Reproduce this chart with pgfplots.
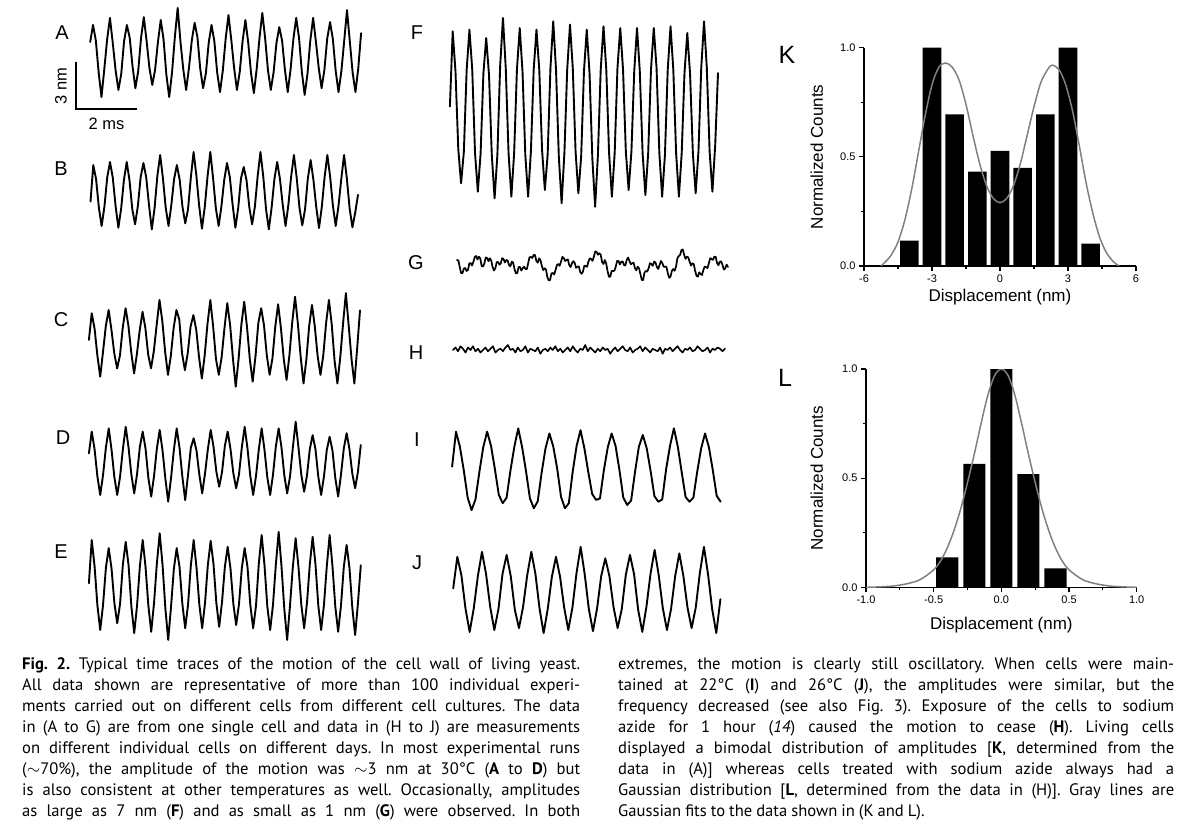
\documentclass[border=0pt]{standalone}
\usepackage{fontspec}
\setmainfont{Liberation Sans}
\newfontfamily\capfont{PT Sans}
\usepackage{pgfplots}
\pgfplotsset{compat=1.18}
\pgfplotsset{
  trace/.style={scale only axis, hide axis, clip=false, ymin=-1, ymax=1, xmin=0, anchor=south west},
  tr/.style={black, line width=1.9pt, line join=round, line cap=round, mark=none},
  hist/.style={scale only axis, anchor=south west, ymin=0, ymax=1,
    axis x line=bottom, axis y line=left, axis line style={-, line width=1.3pt},
    tick align=outside, major tick length=5pt, minor tick length=3pt,
    tick style={line width=1.2pt, black},
    ytick={0,0.5,1}, minor ytick={0.25,0.75},
    yticklabel style={/pgf/number format/.cd, fixed, fixed zerofill, precision=1},
    /pgf/number format/assume math mode=true,
    tick label style={font=\fontsize{11}{13}\selectfont},
    label style={font=\fontsize{17}{20}\selectfont},
    ylabel={Normalized Counts}, xlabel={Displacement (nm)}},
}
\newcommand\Tl[1]{\hbox to 558pt{#1}}
\newcommand\Tr[1]{\hbox to 556pt{#1}}
\begin{document}
\begin{tikzpicture}[x=1pt,y=1pt]
\useasboundingbox (0,0) rectangle (1199,831);
% ---------- A ----------
\begin{axis}[trace, at={(90.2pt,740pt)}, width=270.9pt, height=71pt, xmax=96]
\addplot[tr] table[row sep=\\, header=false, x expr=\coordindex, y index=0]{0.38\\0.86\\0.42\\-0.48\\-1.17\\-0.38\\0.45\\1.06\\0.35\\-0.42\\-0.97\\-0.52\\0.40\\0.86\\0.50\\-0.30\\-0.92\\-0.45\\0.48\\1.08\\0.40\\-0.36\\-0.83\\-0.40\\0.38\\1.0\\0.45\\-0.55\\-1.17\\-0.48\\0.52\\1.34\\0.38\\-0.40\\-0.97\\-0.35\\0.42\\0.92\\0.52\\-0.38\\-0.92\\-0.50\\0.36\\0.86\\0.40\\-0.48\\-1.03\\-0.42\\0.47\\1.14\\0.44\\-0.35\\-0.97\\-0.46\\0.40\\1.0\\0.36\\-0.50\\-1.06\\-0.38\\0.50\\1.2\\0.48\\-0.42\\-0.97\\-0.47\\0.35\\0.8\\0.42\\-0.40\\-1.03\\-0.40\\0.46\\1.06\\0.50\\-0.46\\-1.11\\-0.52\\0.42\\1.06\\0.38\\-0.36\\-0.92\\-0.40\\0.48\\0.94\\0.46\\-0.44\\-1.03\\-0.45\\0.40\\1.28\\0.40\\-0.48\\-1.03\\-0.36\\0.63\\};
\end{axis}
% ---------- B ----------
\begin{axis}[trace, at={(90.5pt,605pt)}, width=267.5pt, height=67pt, xmax=96]
\addplot[tr] table[row sep=\\, header=false, x expr=\coordindex, y index=0]{-0.27\\0.82\\0.40\\-0.45\\-1.00\\-0.42\\0.45\\0.91\\0.44\\-0.40\\-1.05\\-0.48\\0.38\\0.91\\0.36\\-0.50\\-0.95\\-0.40\\0.46\\0.88\\0.45\\-0.38\\-1.10\\-0.46\\0.50\\1.12\\0.42\\-0.46\\-1.00\\-0.38\\0.40\\0.82\\0.38\\-0.42\\-0.92\\-0.50\\0.44\\1.21\\0.50\\-0.40\\-1.08\\-0.44\\0.48\\1.21\\0.42\\-0.48\\-1.00\\-0.40\\0.38\\0.88\\0.46\\-0.36\\-1.05\\-0.47\\0.42\\0.76\\0.36\\-0.44\\-0.95\\-0.42\\0.50\\1.21\\0.48\\-0.50\\-1.10\\-0.45\\0.40\\0.91\\0.40\\-0.38\\-1.00\\-0.38\\0.47\\1.12\\0.44\\-0.46\\-0.98\\-0.50\\0.42\\0.97\\0.38\\-0.42\\-1.06\\-0.44\\0.45\\1.12\\0.47\\-0.40\\-1.00\\-0.40\\0.40\\1.12\\0.42\\-0.48\\-1.04\\-0.60\\-0.07\\};
\end{axis}
% ---------- C ----------
\begin{axis}[trace, at={(88.9pt,454pt)}, width=271.1pt, height=72pt, xmax=96]
\addplot[tr] table[row sep=\\, header=false, x expr=\coordindex, y index=0]{0.03\\0.77\\0.35\\-0.40\\-0.99\\-0.30\\0.42\\0.86\\0.30\\-0.35\\-0.76\\-0.40\\0.38\\0.91\\0.42\\-0.32\\-0.90\\-0.36\\0.30\\0.81\\0.36\\-0.38\\-0.76\\-0.28\\0.45\\1.14\\0.55\\-0.30\\-0.94\\-0.42\\0.36\\0.86\\0.60\\-0.35\\-0.81\\-0.34\\0.40\\0.72\\0.32\\-0.45\\-1.04\\-0.40\\0.48\\1.14\\0.40\\-0.50\\-0.94\\-0.45\\0.35\\1.05\\0.45\\-0.48\\-1.27\\-0.50\\0.46\\1.09\\0.38\\-0.52\\-1.13\\-0.42\\0.50\\0.91\\0.44\\-0.40\\-0.94\\-0.48\\0.40\\1.02\\0.36\\-0.50\\-1.08\\-0.40\\0.52\\1.23\\0.48\\-0.45\\-1.18\\-0.52\\0.42\\1.00\\0.40\\-0.42\\-0.94\\-0.40\\0.50\\1.14\\0.45\\-0.55\\-1.18\\-0.46\\0.48\\1.33\\0.42\\-0.50\\-1.18\\-0.20\\0.85\\};
\end{axis}
% ---------- D ----------
\begin{axis}[trace, at={(88.9pt,337pt)}, width=271.9pt, height=64pt, xmax=96]
\addplot[tr] table[row sep=\\, header=false, x expr=\coordindex, y index=0]{0.27\\0.95\\0.40\\-0.45\\-1.03\\-0.40\\0.45\\1.05\\0.38\\-0.48\\-1.03\\-0.46\\0.40\\1.10\\0.45\\-0.40\\-0.98\\-0.38\\0.48\\0.95\\0.42\\-0.50\\-1.08\\-0.44\\0.42\\1.00\\0.36\\-0.52\\-1.24\\-0.50\\0.38\\1.05\\0.44\\-0.46\\-1.19\\-0.40\\0.45\\0.74\\0.35\\-0.40\\-0.98\\-0.36\\0.40\\1.00\\0.48\\-0.30\\-0.77\\-0.32\\0.50\\0.95\\0.40\\-0.35\\-0.82\\-0.38\\0.46\\1.10\\0.42\\-0.45\\-1.03\\-0.44\\0.40\\1.05\\0.38\\-0.48\\-1.03\\-0.40\\0.48\\1.05\\0.46\\-0.42\\-0.98\\-0.46\\0.44\\1.26\\0.45\\-0.40\\-0.93\\-0.42\\0.40\\0.84\\0.40\\-0.46\\-1.03\\-0.45\\0.38\\0.79\\0.36\\-0.50\\-1.08\\-0.40\\0.42\\0.90\\0.40\\-0.36\\-0.82\\-0.30\\0.53\\};
\end{axis}
% ---------- E ----------
\begin{axis}[trace, at={(88.9pt,201pt)}, width=271.9pt, height=90pt, xmax=96]
\addplot[tr] table[row sep=\\, header=false, x expr=\coordindex, y index=0]{0.04\\1.00\\0.42\\-0.45\\-1.00\\-0.44\\0.38\\0.82\\0.36\\-0.40\\-0.85\\-0.42\\0.46\\0.96\\0.44\\-0.48\\-1.07\\-0.46\\0.42\\1.00\\0.40\\-0.46\\-1.04\\-0.40\\0.48\\1.15\\0.45\\-0.52\\-1.22\\-0.48\\0.36\\0.82\\0.40\\-0.42\\-0.96\\-0.44\\0.44\\1.00\\0.38\\-0.44\\-0.96\\-0.40\\0.45\\0.98\\0.46\\-0.40\\-0.93\\-0.38\\0.40\\0.85\\0.36\\-0.42\\-0.89\\-0.42\\0.38\\0.82\\0.40\\-0.45\\-0.96\\-0.46\\0.48\\1.11\\0.44\\-0.48\\-1.00\\-0.44\\0.45\\1.18\\0.42\\-0.54\\-1.22\\-0.46\\0.40\\1.04\\0.40\\-0.44\\-0.96\\-0.40\\0.46\\1.07\\0.46\\-0.46\\-1.00\\-0.44\\0.42\\1.11\\0.42\\-0.48\\-1.04\\-0.46\\0.40\\0.89\\0.38\\-0.50\\-1.11\\-0.40\\0.44\\};
\end{axis}
% ---------- F ----------
\begin{axis}[trace, at={(449.9pt,636pt)}, width=268.1pt, height=167pt, xmax=96]
\addplot[tr] table[row sep=\\, header=false, x expr=\coordindex, y index=0]{0.06\\0.96\\0.48\\-0.45\\-0.86\\-0.48\\0.50\\0.98\\0.50\\-0.50\\-0.96\\-0.50\\0.46\\0.88\\0.44\\-0.52\\-1.04\\-0.52\\0.55\\1.12\\0.52\\-0.50\\-1.02\\-0.50\\0.50\\1.00\\0.48\\-0.52\\-1.02\\-0.48\\0.50\\0.98\\0.50\\-0.46\\-0.94\\-0.52\\0.52\\1.08\\0.50\\-0.54\\-1.10\\-0.50\\0.50\\1.04\\0.52\\-0.48\\-0.98\\-0.54\\0.48\\0.98\\0.46\\-0.56\\-1.14\\-0.52\\0.50\\1.02\\0.50\\-0.50\\-1.02\\-0.50\\0.52\\1.00\\0.50\\-0.48\\-0.94\\-0.48\\0.48\\1.00\\0.48\\-0.50\\-1.00\\-0.50\\0.50\\1.00\\0.52\\-0.50\\-1.02\\-0.52\\0.50\\1.02\\0.50\\-0.50\\-1.02\\-0.50\\0.46\\0.94\\0.45\\-0.50\\-0.98\\-0.48\\0.52\\1.08\\0.52\\-0.48\\-0.96\\-0.40\\0.46\\};
\end{axis}
% ---------- G ----------
\begin{axis}[trace, at={(457pt,546pt)}, width=271pt, height=40pt, xmax=198, ymin=-20, ymax=20]
\addplot[tr, line width=1.7pt] table[row sep=\\, header=false, x expr=\coordindex, y index=0]{5\\4.5\\-2\\-8\\-8.3\\-3.5\\-3\\-6\\-5\\1.5\\2\\-0.5\\3.3\\8\\9\\5.5\\8.3\\6.5\\-1\\-1.5\\1.7\\7.5\\7\\3.8\\6.7\\4.5\\-2\\-5.5\\-3.3\\2.8\\3\\0.3\\1.7\\6.8\\6\\2.5\\5\\4.5\\0\\-1.3\\3.3\\2.6\\-4\\-8.2\\-8.3\\-2.1\\-2\\-5.6\\-3.3\\-1.6\\-4\\-4.1\\1.7\\7.8\\8\\7\\10\\10\\4\\2.3\\6.7\\4.8\\-1\\-5.1\\-3.3\\-4.6\\-12\\-15.5\\-15\\-8.5\\-8\\-9.5\\-5\\0\\1\\-0.8\\3.3\\8.1\\7\\4\\5\\5.5\\0\\-2.1\\1.7\\3.8\\2\\-2.8\\-1.7\\-1.4\\-7\\-8.8\\-6.7\\-0.8\\-1\\-1.8\\3.3\\6.6\\6\\4.1\\8.3\\13.6\\13\\10.3\\11.7\\10.3\\3\\1\\5\\1.5\\-6\\-11.8\\-11.7\\-5.8\\-6\\-5.8\\-1.7\\4.1\\4\\0.6\\3.3\\3.6\\0\\-0.5\\5\\7.5\\4\\0.8\\1.7\\2.3\\-3\\-5.3\\-1.7\\-3.3\\-9\\-15\\-15\\-7.5\\-6\\-6.6\\-3.3\\1.8\\1\\-0.8\\3.3\\2.6\\-2\\-4\\0\\4\\2\\-1.8\\-1.7\\-1.8\\-8\\-12.8\\-11.7\\-5.8\\-4\\-5.8\\-1.7\\6.6\\9\\10\\15\\15.5\\10\\6.1\\8.3\\7.6\\3\\-0.6\\1.7\\0.8\\-6\\-10.8\\-11.7\\-7.3\\-9\\-10\\-5\\-1.5\\-2\\-3.1\\1.7\\6.8\\6\\5.1\\8.3\\8.1\\2\\-0.3\\3.3\\3.6\\0\\-4.6\\-3.3\\0.3\\-2\\};
\end{axis}
% ---------- H ----------
\begin{axis}[trace, at={(453pt,471pt)}, width=272pt, height=20pt, xmax=109, ymin=-8, ymax=8]
\addplot[tr, line width=1.6pt] table[row sep=\\, header=false, x expr=\coordindex, y index=0]{0\\2\\-1\\3\\1\\-2\\2\\0\\3\\-1\\1\\-2\\0\\2\\-1\\1\\3\\-2\\0\\1\\-1\\2\\4\\0\\1\\-2\\2\\-1\\0\\3\\-2\\1\\0\\-1\\2\\-3\\0\\1\\-1\\2\\0\\3\\-1\\1\\-2\\0\\2\\-1\\3\\0\\-2\\1\\0\\4\\-1\\2\\0\\-2\\1\\-1\\2\\0\\1\\-3\\0\\2\\-1\\1\\3\\0\\-1\\2\\-2\\0\\1\\3\\-1\\2\\0\\-2\\1\\0\\-1\\2\\-3\\1\\0\\2\\-1\\1\\3\\0\\-2\\1\\0\\2\\-1\\0\\3\\1\\-1\\0\\2\\-2\\1\\0\\2\\1\\-1\\1\\};
\end{axis}
% ---------- I ----------
\begin{axis}[trace, at={(452.1pt,326pt)}, width=268.5pt, height=73pt, xmax=69]
\addplot[tr] table[row sep=\\, header=false, x expr=\coordindex, y index=0]{0.05\\1.01\\0.60\\-0.05\\-0.80\\-1.14\\-0.85\\-0.10\\0.58\\1.01\\0.62\\-0.02\\-0.72\\-0.95\\-0.80\\-0.05\\0.60\\1.10\\0.58\\-0.08\\-0.82\\-1.09\\-0.90\\-0.12\\0.55\\0.96\\0.60\\0.00\\-0.78\\-1.09\\-0.95\\-0.08\\0.62\\1.05\\0.55\\-0.10\\-0.70\\-0.86\\-0.82\\-0.05\\0.58\\0.96\\0.62\\-0.04\\-0.80\\-1.00\\-0.88\\-0.10\\0.60\\0.92\\0.56\\-0.06\\-0.76\\-0.91\\-0.85\\-0.02\\0.62\\1.10\\0.60\\-0.10\\-0.78\\-0.91\\-0.80\\-0.08\\0.55\\0.96\\0.58\\-0.05\\-0.75\\-0.91\\};
\end{axis}
% ---------- J ----------
\begin{axis}[trace, at={(453.2pt,201pt)}, width=267.2pt, height=77pt, xmax=65]
\addplot[tr] table[row sep=\\, header=false, x expr=\coordindex, y index=0]{0.08\\0.90\\0.42\\-0.45\\-1.05\\-0.44\\0.40\\1.03\\0.45\\-0.40\\-1.00\\-0.46\\0.46\\0.95\\0.40\\-0.48\\-0.95\\-0.40\\0.42\\1.03\\0.46\\-0.44\\-1.08\\-0.45\\0.38\\0.90\\0.38\\-0.42\\-1.00\\-0.42\\0.48\\1.16\\0.44\\-0.46\\-1.03\\-0.44\\0.40\\0.86\\0.40\\-0.40\\-0.95\\-0.46\\0.44\\0.95\\0.45\\-0.48\\-1.05\\-0.40\\0.46\\1.08\\0.42\\-0.44\\-1.00\\-0.45\\0.40\\0.99\\0.40\\-0.42\\-0.95\\-0.42\\0.48\\1.16\\0.44\\-0.46\\-1.08\\-0.20\\};
\end{axis}
% ---------- K ----------
\begin{axis}[hist, at={(864pt,565pt)}, width=272pt, height=218.3pt,
  xmin=-6, xmax=6, xtick={-6,-3,0,3,6}, minor xtick={-4.5,-1.5,1.5,4.5},
  ylabel style={at={(axis description cs:-0.174,0.5)}, anchor=center, rotate=0},
  xlabel style={at={(axis description cs:0.5,-0.141)}, anchor=center}]
\addplot[ybar, bar width=0.82, fill=black, draw=none] coordinates {(-4,0.116) (-3,1.0) (-2,0.695) (-1,0.432) (0,0.527) (1,0.449) (2,0.695) (3,1.0) (4,0.102)};
\addplot[smooth, color=black!50, line width=1.5pt] coordinates {(-5.25,0) (-5.0,0.025) (-4.8,0.05) (-4.5,0.11) (-4.2,0.21) (-3.9,0.35) (-3.6,0.52) (-3.3,0.69) (-3.0,0.83) (-2.7,0.91) (-2.4,0.93) (-2.1,0.91) (-1.8,0.85) (-1.5,0.74) (-1.2,0.60) (-0.9,0.47) (-0.6,0.37) (-0.3,0.31) (0,0.29) (0.3,0.31) (0.6,0.37) (0.9,0.47) (1.2,0.60) (1.5,0.73) (1.8,0.84) (2.1,0.90) (2.3,0.92) (2.6,0.90) (2.9,0.83) (3.2,0.71) (3.5,0.55) (3.8,0.38) (4.1,0.24) (4.4,0.13) (4.7,0.06) (5.0,0.02) (5.25,0)};
\end{axis}
% ---------- L ----------
\begin{axis}[hist, at={(866pt,243.7pt)}, width=270.7pt, height=218.3pt,
  xmin=-1, xmax=1, xtick={-1,-0.5,0,0.5,1}, minor xtick={-0.75,-0.25,0.25,0.75},
  xticklabel style={/pgf/number format/.cd, fixed, fixed zerofill, precision=1},
  ylabel style={at={(axis description cs:-0.182,0.5)}, anchor=center, rotate=0},
  xlabel style={at={(axis description cs:0.5,-0.173)}, anchor=center}]
\addplot[ybar, bar width=0.163, fill=black, draw=none] coordinates {(-0.4,0.137) (-0.2,0.565) (0,1.0) (0.2,0.518) (0.4,0.087)};
\addplot[smooth, color=black!50, line width=1.5pt] coordinates {(-1.0,0) (-0.9,0.002) (-0.8,0.006) (-0.7,0.016) (-0.6,0.035) (-0.5,0.08) (-0.45,0.12) (-0.4,0.18) (-0.35,0.26) (-0.3,0.36) (-0.25,0.48) (-0.2,0.61) (-0.15,0.75) (-0.1,0.88) (-0.05,0.97) (0,1.0) (0.05,0.97) (0.1,0.88) (0.15,0.75) (0.2,0.61) (0.25,0.48) (0.3,0.36) (0.35,0.26) (0.4,0.18) (0.45,0.12) (0.5,0.08) (0.6,0.035) (0.7,0.016) (0.8,0.006) (0.9,0.002) (1.0,0)};
\end{axis}
% ---------- scale bar ----------
\draw[line width=1.8pt] (76,769) -- (76,722) -- (137,722);
\node[rotate=90, font=\fontsize{16.5}{18}\selectfont] at (61,745) {3 nm};
\node[font=\fontsize{16.5}{18}\selectfont] at (106.5,707) {2 ms};
% ---------- panel letters ----------
\begin{scope}[every node/.style={font=\fontsize{20}{22}\selectfont, inner sep=0}]
\node at (62,798) {A};
\node at (61,662) {B};
\node at (61,511) {C};
\node at (63,393) {D};
\node at (61,279) {E};
\node at (417,798) {F};
\node at (416,568) {G};
\node at (416,478) {H};
\node at (417,391) {I};
\node at (417,268) {J};
\end{scope}
\node[font=\fontsize{25}{27}\selectfont, inner sep=0] at (787,776) {K};
\node[font=\fontsize{25}{27}\selectfont, inner sep=0] at (785,453) {L};
% ---------- caption ----------
\node[anchor=base west, inner sep=0] at (22,162) {\capfont\fontsize{16.6}{21}\selectfont\frenchspacing\spaceskip=.24em plus .6em minus .1em
\vtop{\baselineskip=21pt
\Tl{\textbf{Fig. 2.} Typical time traces of the motion of the cell wall of living yeast.}
\Tl{All data shown are representative of more than 100 individual experi-}
\Tl{ments carried out on different cells from different cell cultures. The data}
\Tl{in (A to G) are from one single cell and data in (H to J) are measurements}
\Tl{on different individual cells on different days. In most experimental runs}
\Tl{($\sim$70\%), the amplitude of the motion was $\sim$3 nm at 30°C (\textbf{A} to \textbf{D}) but}
\Tl{is also consistent at other temperatures as well. Occasionally, amplitudes}
\Tl{as large as 7 nm (\textbf{F}) and as small as 1 nm (\textbf{G}) were observed. In both}}};
\node[anchor=base west, inner sep=0] at (618,162) {\capfont\fontsize{16.6}{21}\selectfont\frenchspacing\spaceskip=.24em plus .6em minus .1em
\vtop{\baselineskip=21pt
\Tr{extremes, the motion is clearly still oscillatory. When cells were main-}
\Tr{tained at 22°C (\textbf{I}) and 26°C (\textbf{J}), the amplitudes were similar, but the}
\Tr{frequency decreased (see also Fig. 3). Exposure of the cells to sodium}
\Tr{azide for 1 hour (\textit{14}) caused the motion to cease (\textbf{H}). Living cells}
\Tr{displayed a bimodal distribution of amplitudes [\textbf{K}, determined from the}
\Tr{data in (A)] whereas cells treated with sodium azide always had a}
\Tr{Gaussian distribution [\textbf{L}, determined from the data in (H)]. Gray lines are}
\hbox{Gaussian fits to the data shown in (K and L).}}};
\end{tikzpicture}
\end{document}
